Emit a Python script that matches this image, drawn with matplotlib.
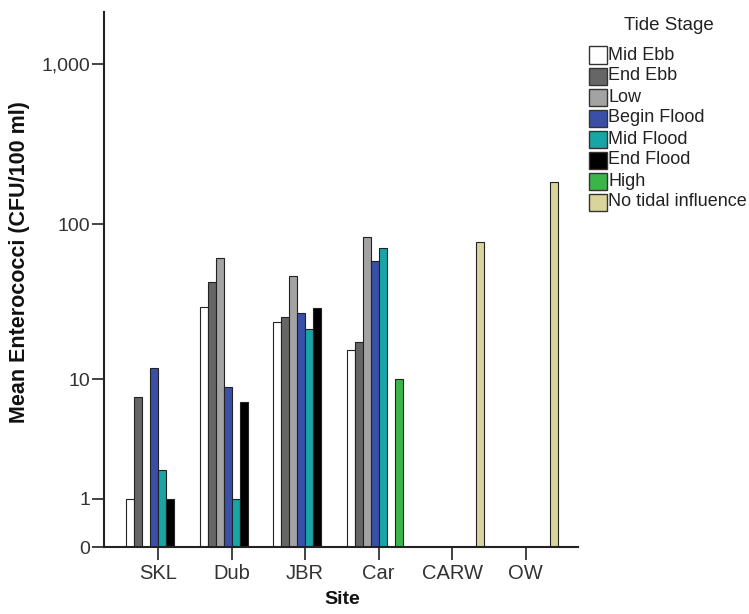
import numpy as np
import matplotlib
matplotlib.use("Agg")
import matplotlib.pyplot as plt
from matplotlib.ticker import FixedLocator, FixedFormatter
from matplotlib.patches import Rectangle

plt.rcParams['font.family'] = ['Liberation Sans', 'DejaVu Sans']

sites = ["SKL", "Dub", "JBR", "Car", "CARW", "OW"]
stages = ["Mid Ebb", "End Ebb", "Low", "Begin Flood", "Mid Flood",
          "End Flood", "High", "No tidal influence"]
colors = ["#ffffff", "#666666", "#a3a3a3", "#3a50a8", "#17a5a5",
          "#000000", "#3bb54a", "#d8d49c"]

# values per stage across sites (None = no bar)
mid_ebb = [1, 30, 24, 15.7, None, None]
end_ebb = [7.5, 43, 25.7, 17.7, None, None]
low = [None, 61, 47, 83, None, None]
begin_flood = [12, 8.9, 27.5, 59, None, None]
mid_flood = [2, 1, 21.5, 70.5, None, None]
end_flood = [1, 7, 29.5, None, None, None]
high = [None, None, None, 10, None, None]
no_tidal = [None, None, None, None, 77, 185]
series = [mid_ebb, end_ebb, low, begin_flood, mid_flood, end_flood, high, no_tidal]

ytick_vals = [0, 1, 10, 100, 1000]
ytick_labels = ["0", "1", "10", "100", "1,000"]

W, H = 749, 614
fig = plt.figure(figsize=(W/100, H/100), dpi=100)
ax = fig.add_axes([104/W, 1-547/H, (578-104)/W, (547-12)/H])

fwd = lambda v: np.log10(np.asarray(v, dtype=float) + 1)
inv = lambda v: 10**np.asarray(v, dtype=float) - 1
ax.set_yscale('function', functions=(fwd, inv))

w = 0.109
x = np.arange(len(sites))
for i, (vals, col, lab) in enumerate(zip(series, colors, stages)):
    off = (i - 3.5) * w
    xs = [x[j] + off for j, v in enumerate(vals) if v is not None]
    hs = [v for v in vals if v is not None]
    ax.bar(xs, hs, width=w, color=col, edgecolor="#222222", linewidth=0.8)

ax.set_ylim(0, 2100)
ax.set_xlim(-0.735, 5.71)
ax.yaxis.set_major_locator(FixedLocator(ytick_vals))
ax.yaxis.set_major_formatter(FixedFormatter(ytick_labels))
ax.yaxis.set_minor_locator(FixedLocator([]))
ax.set_xticks(x)
ax.set_xticklabels(sites)
ax.tick_params(axis='both', direction='out', length=9, width=1.2, colors='#222222',
               labelcolor='#333333')
ax.tick_params(axis='y', pad=1, labelsize=14)
ax.tick_params(axis='x', pad=3.5, labelsize=14.5)
for s in ['top', 'right']:
    ax.spines[s].set_visible(False)
for s in ['left', 'bottom']:
    ax.spines[s].set_linewidth(1.5)
    ax.spines[s].set_color('#222222')

fig.text(342/W, 1-600/H, "Site", fontsize=14, fontweight='bold', ha='center', va='center', color='#111111')
fig.text(20/W, 1-262/H, "Mean Enterococci (CFU/100 ml)", fontsize=15.5, fontweight='bold',
         rotation=90, ha='center', va='center', color='#111111')

# legend
fig.text(669/W, 1-25/H, "Tide Stage", fontsize=13.5, ha='center', va='center', color='#222222')
for i, (lab, col) in enumerate(zip(stages, colors)):
    yc = 55 + 21 * i
    fig.add_artist(Rectangle((589/W, 1-(yc+8.5)/H), 18/W, 17/H, facecolor=col,
                             edgecolor="#333333", linewidth=1.0, transform=fig.transFigure))
    fig.text(608/W, 1-yc/H, lab, fontsize=13, ha='left', va='center', color='#222222')

fig.savefig("out.png", dpi=100)
